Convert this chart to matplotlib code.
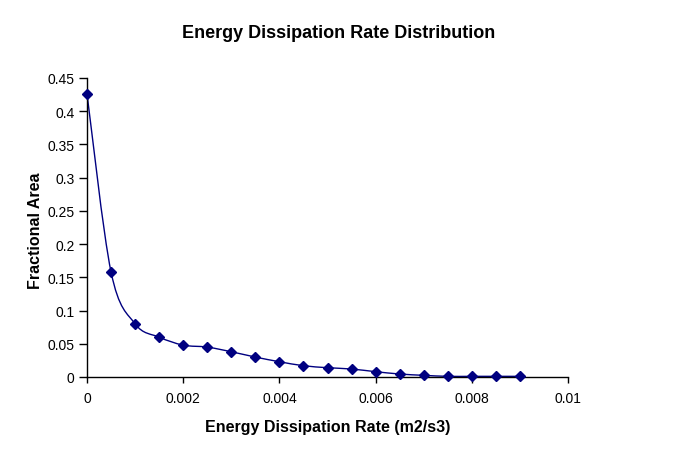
import numpy as np
import matplotlib
matplotlib.use('Agg')
import matplotlib.pyplot as plt
from matplotlib.path import Path
from matplotlib.patches import PathPatch

# Data
rate = [0.0, 0.0005, 0.001, 0.0015, 0.002, 0.0025, 0.003, 0.0035, 0.004,
        0.0045, 0.005, 0.0055, 0.006, 0.0065, 0.007, 0.0075, 0.008, 0.0085, 0.009]
frac_area = [0.426, 0.158, 0.080, 0.060, 0.048, 0.045, 0.038, 0.030, 0.023,
             0.017, 0.014, 0.012, 0.008, 0.0045, 0.0025, 0.001, 0.001, 0.001, 0.001]
x_ticks = [0, 0.002, 0.004, 0.006, 0.008, 0.01]
x_labels = ['0', '0.002', '0.004', '0.006', '0.008', '0.01']
y_ticks = [0, 0.05, 0.1, 0.15, 0.2, 0.25, 0.3, 0.35, 0.4, 0.45]
y_labels = ['0', '0.05', '0.1', '0.15', '0.2', '0.25', '0.3', '0.35', '0.4', '0.45']

plt.rcParams['font.family'] = ['Liberation Sans', 'DejaVu Sans']
navy = '#000080'

fig = plt.figure(figsize=(6.73, 4.56), dpi=100)
ax = fig.add_axes([87 / 673, 78 / 456, 481 / 673, 299 / 456])


def smooth_path(xs, ys, t=1 / 6):
    # Excel-like smoothed line: cubic Bezier segments through every point
    xs, ys = np.asarray(xs), np.asarray(ys)
    n = len(xs)
    verts = [(xs[0], ys[0])]
    codes = [Path.MOVETO]
    for i in range(n - 1):
        p0 = i - 1 if i > 0 else i
        p3 = i + 2 if i + 2 < n else i + 1
        c1 = (xs[i] + t * (xs[i + 1] - xs[p0]), ys[i] + t * (ys[i + 1] - ys[p0]))
        c2 = (xs[i + 1] - t * (xs[p3] - xs[i]), ys[i + 1] - t * (ys[p3] - ys[i]))
        verts += [c1, c2, (xs[i + 1], ys[i + 1])]
        codes += [Path.CURVE4] * 3
    return Path(verts, codes)


ax.add_patch(PathPatch(smooth_path(rate, frac_area), facecolor='none',
                       edgecolor=navy, lw=1.0, zorder=2))
ax.plot(rate, frac_area, linestyle='none', marker='D', markersize=5.5,
        color=navy, markeredgecolor=navy, zorder=3, clip_on=False)

ax.set_xlim(0, 0.01)
ax.set_ylim(0, 0.45)
ax.set_xticks(x_ticks)
ax.set_xticklabels(x_labels)
ax.set_yticks(y_ticks)
ax.set_yticklabels(y_labels)
ax.spines['top'].set_visible(False)
ax.spines['right'].set_visible(False)
for s in ('left', 'bottom'):
    ax.spines[s].set_linewidth(1.0)
    ax.spines[s].set_color('black')
ax.tick_params(axis='x', direction='out', length=4, width=1, labelsize=10, pad=6)
ax.tick_params(axis='y', direction='out', length=6, width=1, labelsize=10, pad=3)

ax.set_xlabel('Energy Dissipation Rate (m2/s3)', fontsize=11.5, fontweight='bold',
              va='baseline')
ax.xaxis.set_label_coords(0.5, -0.1796)
ax.set_ylabel('Fractional Area', fontsize=11.5, fontweight='bold', va='baseline')
ax.yaxis.set_label_coords(-0.0977, 0.493)
fig.text(338.5 / 673, 1 - 33 / 456, 'Energy Dissipation Rate Distribution',
         ha='center', va='center', fontsize=13, fontweight='bold')

fig.savefig('out.png', dpi=100)
